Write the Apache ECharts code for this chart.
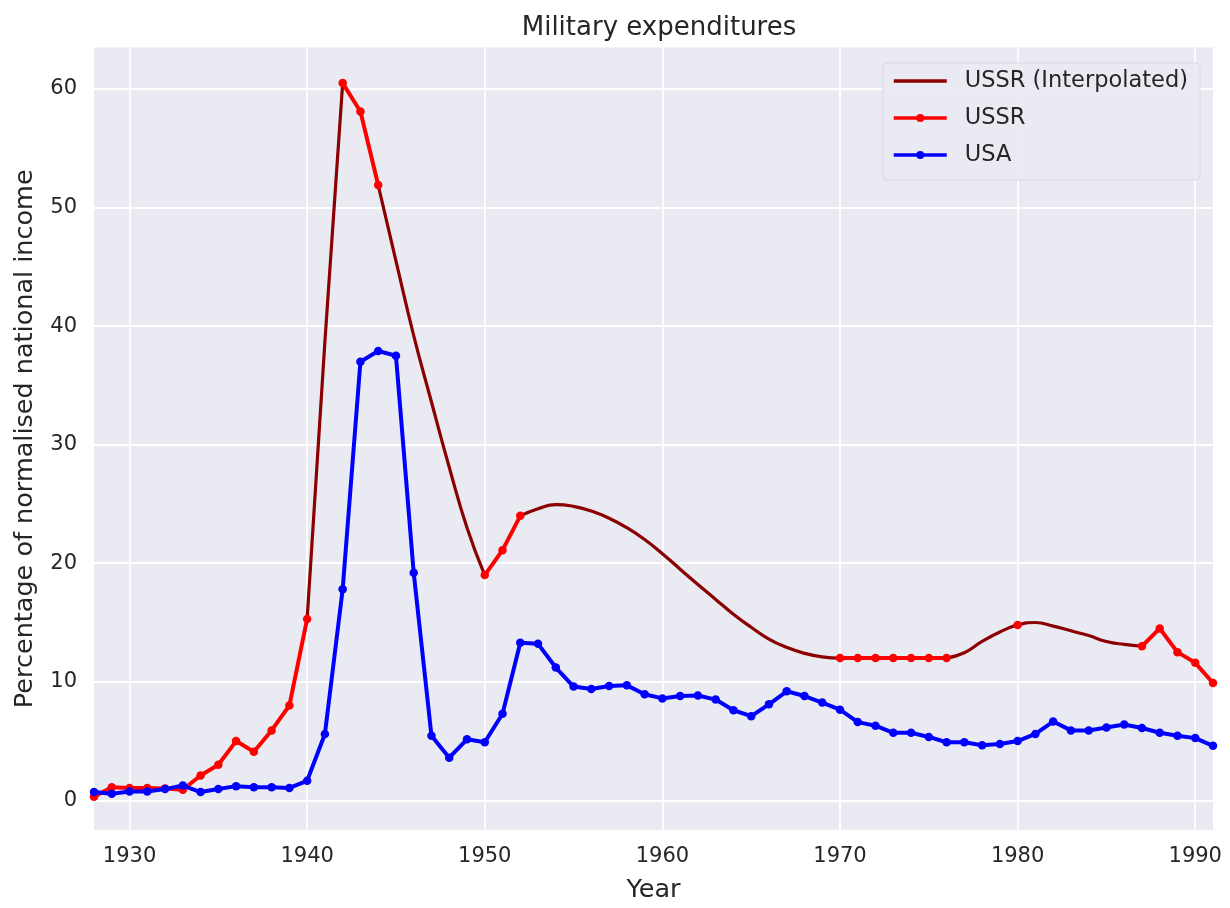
<!DOCTYPE html>
<html>
<head>
<meta charset="utf-8">
<title>Military expenditures</title>
<script src="https://cdn.jsdelivr.net/npm/echarts@6/dist/echarts.min.js"></script>
<style>
  html, body { margin: 0; padding: 0; background: #ffffff; }
  #chart { width: 1230px; height: 908px; }
</style>
</head>
<body>
<div id="chart"></div>
<script>
// Years on the x axis
const years = [
  1928, 1929, 1930, 1931, 1932, 1933, 1934, 1935, 1936, 1937,
  1938, 1939, 1940, 1941, 1942, 1943, 1944, 1945, 1946, 1947,
  1948, 1949, 1950, 1951, 1952, 1953, 1954, 1955, 1956, 1957,
  1958, 1959, 1960, 1961, 1962, 1963, 1964, 1965, 1966, 1967,
  1968, 1969, 1970, 1971, 1972, 1973, 1974, 1975, 1976, 1977,
  1978, 1979, 1980, 1981, 1982, 1983, 1984, 1985, 1986, 1987,
  1988, 1989, 1990, 1991
];

// USSR, recorded values (null = no record for that year)
const ussr = [
  0.3, 1.1, 1.05, 1.05, 1.0, 0.9, 2.1, 3.0, 5.0, 4.1,
  5.9, 8.0, 15.3, null, 60.5, 58.1, 51.9, null, null, null,
  null, null, 19.0, 21.1, 24.0, null, null, null, null, null,
  null, null, null, null, null, null, null, null, null, null,
  null, null, 12.0, 12.0, 12.0, 12.0, 12.0, 12.0, 12.0, null,
  null, null, 14.8, null, null, null, null, null, null, 13.0,
  14.5, 12.5, 11.6, 9.9
];

// USSR, interpolated curve across the gaps (null where not drawn)
const ussrInterpolated = [
  null, null, null, null, null, null, null, null, null, null,
  null, null, 15.3, 38.7, 60.5, null, 51.9, 45.5, 39.2, 33.6,
  28.1, 23.0, 19.0, null, 24.0, 24.6, 24.95, 24.8, 24.4, 23.8,
  23.0, 22.0, 20.8, 19.5, 18.2, 16.95, 15.7, 14.6, 13.6, 12.9,
  12.4, 12.1, 12.0, null, null, null, null, null, 12.0, 12.45,
  13.4, 14.2, 14.8, 15.0, 14.7, 14.3, 13.9, 13.4, 13.15, 13.0,
  null, null, null, null
];

// USA
const usa = [
  0.7, 0.55, 0.75, 0.75, 0.95, 1.25, 0.7, 0.95, 1.2, 1.1,
  1.1, 1.05, 1.65, 5.6, 17.8, 37.0, 37.9, 37.5, 19.2, 5.45,
  3.6, 5.15, 4.9, 7.3, 13.3, 13.2, 11.2, 9.6, 9.4, 9.65,
  9.7, 8.95, 8.6, 8.8, 8.85, 8.5, 7.6, 7.1, 8.1, 9.2,
  8.8, 8.25, 7.65, 6.6, 6.3, 5.7, 5.7, 5.35, 4.9, 4.9,
  4.65, 4.75, 5.0, 5.6, 6.65, 5.9, 5.9, 6.15, 6.4, 6.1,
  5.7, 5.45, 5.25, 4.6
];

// Tick labels
const xTicks = [1930, 1940, 1950, 1960, 1970, 1980, 1990];
const yTicks = [0, 10, 20, 30, 40, 50, 60];

const FONT = 'DejaVu Sans';
const TEXT = '#262626';
const DARK_RED = '#8B0000';
const RED = '#FF0000';
const BLUE = '#0000FF';

function pairs(values) {
  return years.map((y, i) => [y, values[i] === null ? '-' : values[i]]);
}

const chart = echarts.init(document.getElementById('chart'), null, { renderer: 'canvas' });

chart.setOption({
  animation: false,
  backgroundColor: '#ffffff',
  textStyle: { fontFamily: FONT },
  title: {
    text: 'Military expenditures',
    left: 654,
    top: 10,
    textAlign: 'center',
    textStyle: { fontFamily: FONT, fontSize: 26, fontWeight: 'normal', color: TEXT }
  },
  grid: {
    left: 94,
    right: 17,
    top: 47.5,
    bottom: 75,
    show: true,
    backgroundColor: '#EAEAF2',
    borderWidth: 0
  },
  legend: {
    orient: 'vertical',
    left: 883,
    top: 63,
    padding: [6, 12, 13, 9],
    itemWidth: 53,
    itemHeight: 10,
    itemGap: 13,
    backgroundColor: 'rgba(234,234,242,0.9)',
    borderColor: '#d9d9e1',
    borderWidth: 1,
    borderRadius: 4,
    textStyle: { fontFamily: FONT, fontSize: 22.5, color: TEXT, padding: [0, 0, 0, 13], lineHeight: 24 },
    data: [
      { name: 'USSR (Interpolated)', itemStyle: { opacity: 0 }, lineStyle: { color: DARK_RED, width: 3.5 } },
      { name: 'USSR', lineStyle: { color: RED, width: 3.5 } },
      { name: 'USA', lineStyle: { color: BLUE, width: 3.5 } }
    ]
  },
  xAxis: {
    type: 'value',
    min: 1928,
    max: 1991,
    name: 'Year',
    nameLocation: 'middle',
    nameGap: 47,
    nameTextStyle: { fontFamily: FONT, fontSize: 25.5, color: TEXT },
    axisLine: { show: false },
    axisTick: { show: false, customValues: xTicks },
    axisLabel: {
      customValues: xTicks,
      fontFamily: FONT, fontSize: 21, color: TEXT, margin: 16,
      formatter: v => String(v)
    },
    splitLine: { show: true, lineStyle: { color: '#ffffff', width: 1.8 } }
  },
  yAxis: {
    type: 'value',
    min: -2.5,
    max: 63.5,
    name: 'Percentage of normalised national income',
    nameLocation: 'middle',
    nameGap: 56,
    nameTextStyle: { fontFamily: FONT, fontSize: 25.5, color: TEXT },
    axisLine: { show: false },
    axisTick: { show: false, customValues: yTicks },
    axisLabel: {
      customValues: yTicks,
      fontFamily: FONT, fontSize: 21, color: TEXT, margin: 17,
      formatter: v => String(v)
    },
    splitLine: { show: true, lineStyle: { color: '#ffffff', width: 1.8 } }
  },
  series: [
    {
      name: 'USSR (Interpolated)',
      type: 'line',
      data: pairs(ussrInterpolated),
      smooth: 0.5,
      connectNulls: false,
      symbol: 'none',
      color: DARK_RED,
      lineStyle: { color: DARK_RED, width: 3.2 },
      z: 2
    },
    {
      name: 'USSR',
      type: 'line',
      data: pairs(ussr),
      connectNulls: false,
      symbol: 'circle',
      symbolSize: 8.5,
      showSymbol: true,
      color: RED,
      itemStyle: { color: RED },
      lineStyle: { color: RED, width: 4 },
      z: 3
    },
    {
      name: 'USA',
      type: 'line',
      data: pairs(usa),
      symbol: 'circle',
      symbolSize: 8.5,
      showSymbol: true,
      color: BLUE,
      itemStyle: { color: BLUE },
      lineStyle: { color: BLUE, width: 4 },
      z: 4
    }
  ]
});
</script>
</body>
</html>
